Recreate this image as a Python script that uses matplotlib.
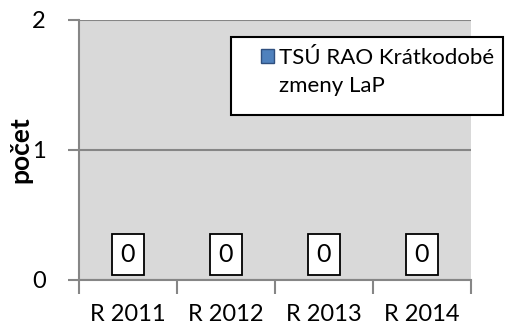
import matplotlib.pyplot as plt
from matplotlib.patches import Rectangle

# data
categories = ['R 2011', 'R 2012', 'R 2013', 'R 2014']
values = [0, 0, 0, 0]
series_name = ['TSÚ RAO Krátkodobé', 'zmeny LaP']
yticks = [0, 1, 2]

plt.rcParams['font.family'] = ['Lato', 'DejaVu Sans']
grey = '#868686'
fs = 17

fig = plt.figure(figsize=(5.06, 3.27), dpi=100)
ax = fig.add_axes([79/506, 1 - 280/327, 392/506, 260/327])
ax.set_facecolor('#D9D9D9')

x = list(range(len(categories)))
bars = ax.bar(x, values, width=0.5, color='#4F81BD')
ax.bar_label(bars, labels=[str(v) for v in values], padding=10, fontsize=18,
             bbox=dict(boxstyle='square,pad=0.35', fc='white', ec='black', lw=1.3))

ax.set_xlim(-0.5, len(categories) - 0.5)
ax.set_ylim(0, 2)
ax.set_yticks(yticks)
ax.set_yticklabels([str(t) for t in yticks], fontsize=fs)
ax.set_xticks([i - 0.5 for i in range(len(categories) + 1)])
ax.set_xticklabels([])
ax.set_xticks(x, minor=True)
ax.set_xticklabels(categories, minor=True, fontsize=fs)
ax.tick_params(axis='x', which='major', length=10, width=1.5, color=grey)
ax.tick_params(axis='x', which='minor', length=0, pad=17)
ax.tick_params(axis='y', length=8, width=1.5, color=grey, pad=16)

ax.grid(axis='y', color=grey, lw=1.5)
ax.set_axisbelow(True)
for s in ['top', 'right']:
    ax.spines[s].set_visible(False)
for s in ['left', 'bottom']:
    ax.spines[s].set_color(grey)
    ax.spines[s].set_linewidth(1.5)

ax.set_ylabel('počet', fontsize=19, fontweight='bold')
ax.yaxis.set_label_coords(-0.12, 0.5)

# legend: frame drawn separately, entries inside
fig.patches.append(Rectangle((231/506, 1 - 115/327), 272/506, 78/327,
                             transform=fig.transFigure, fc='white', ec='black',
                             lw=1.5, zorder=5))
handles = [Rectangle((0, 0), 1, 1, fc='#4F81BD', ec='#2F4F7F', lw=1),
           Rectangle((0, 0), 1, 1, alpha=0)]
fig.legend(handles, series_name, loc='upper left',
           bbox_to_anchor=(261/506, 1 - 48/327), frameon=False, fontsize=16,
           handlelength=0.6, handleheight=0.6, handletextpad=0.2,
           labelspacing=0.35, borderpad=0, borderaxespad=0).set_zorder(6)

fig.savefig('out.png', dpi=100)
